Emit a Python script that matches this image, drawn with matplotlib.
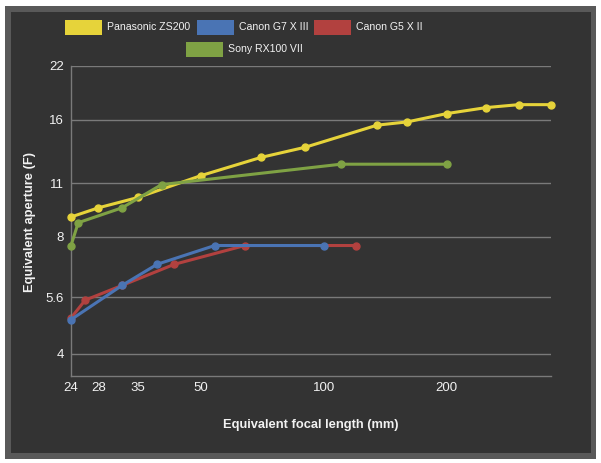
import matplotlib.pyplot as plt
from matplotlib.patches import Rectangle
from matplotlib.ticker import FixedLocator, NullLocator

plt.rcParams['font.family'] = ['Liberation Sans', 'DejaVu Sans']

# datos
zs200_f = [24, 28, 35, 50, 70, 90, 135, 160, 200, 250, 300, 360]
zs200_ap = [9.0, 9.5, 10.1, 11.5, 12.8, 13.6, 15.5, 15.8, 16.6, 17.2, 17.5, 17.5]

g7_f = [24, 32, 39, 54, 100]
g7_ap = [4.9, 6.0, 6.8, 7.6, 7.6]

g5_f = [24, 26, 32, 43, 64, 120]
g5_ap = [4.95, 5.5, 6.0, 6.8, 7.6, 7.6]

rx100_f = [24, 25, 32, 40, 110, 200]
rx100_ap = [7.6, 8.7, 9.5, 10.9, 12.3, 12.3]

series_names = ['Panasonic ZS200', 'Canon G7 X III', 'Canon G5 X II', 'Sony RX100 VII']
series_colors = ['#e6d33a', '#4a74b4', '#b2413f', '#7fa244']

x_ticks = [24, 28, 35, 50, 100, 200]
y_ticks = [4, 5.6, 8, 11, 16, 22]

W, H = 601, 463
fig = plt.figure(figsize=(W / 100, H / 100), dpi=100)
fig.patch.set_facecolor('white')

# marco exterior gris e interior oscuro (coordenadas en píxeles)
def px_rect(x0, y0, x1, y1, color):
    fig.patches.append(Rectangle((x0 / W, 1 - y1 / H), (x1 - x0) / W, (y1 - y0) / H,
                                 transform=fig.transFigure, facecolor=color,
                                 edgecolor='none', zorder=-10))

px_rect(5, 6, 596, 459, '#595959')
px_rect(11, 12, 591, 453, '#333333')

ax = fig.add_axes([71 / W, 1 - 376 / H, (551 - 71) / W, (376 - 66) / H])
ax.patch.set_alpha(0)

datos = [(zs200_f, zs200_ap), (g7_f, g7_ap), (g5_f, g5_ap), (rx100_f, rx100_ap)]
orden = [4, 3, 2, 5]
for (fx, ap), color, z in zip(datos, series_colors, orden):
    ax.plot(fx, ap, color=color, lw=2.2, marker='o', ms=5, zorder=z, clip_on=False)

ax.set_xscale('log')
ax.set_yscale('log')
ax.set_xlim(24, 360)
ax.set_ylim(3.51, 22)

ax.xaxis.set_major_locator(FixedLocator(x_ticks))
ax.xaxis.set_minor_locator(NullLocator())
ax.set_xticklabels([str(t) for t in x_ticks])
ax.yaxis.set_major_locator(FixedLocator(y_ticks))
ax.yaxis.set_minor_locator(NullLocator())
ax.set_yticklabels([('%g' % t) for t in y_ticks])

ax.tick_params(axis='both', length=0, colors='#f2f2f2', labelsize=9.5)
ax.tick_params(axis='x', pad=4)
ax.tick_params(axis='y', pad=5)
ax.grid(axis='y', color='#7a7a7a', lw=1)
ax.set_axisbelow(True)
for s in ['top', 'right']:
    ax.spines[s].set_visible(False)
for s in ['left', 'bottom']:
    ax.spines[s].set_color('#7a7a7a')
    ax.spines[s].set_linewidth(1)

fig.text(311 / W, 1 - 425 / H, 'Equivalent focal length (mm)', ha='center', va='center',
         color='#f2f2f2', fontsize=9.3, fontweight='bold')
fig.text(30 / W, 1 - 222 / H, 'Equivalent aperture (F)', ha='center', va='center',
         rotation=90, color='#f2f2f2', fontsize=9.3, fontweight='bold')

# leyenda manual en dos filas
leyenda_pos = [(65, 20), (197, 20), (314, 20), (186, 42)]
for (lx, ly), name, color in zip(leyenda_pos, series_names, series_colors):
    fig.patches.append(Rectangle((lx / W, 1 - (ly + 15) / H), 37 / W, 15 / H,
                                 transform=fig.transFigure, facecolor=color,
                                 edgecolor='none', zorder=5))
    fig.text((lx + 42) / W, 1 - (ly + 7.5) / H, name, ha='left', va='center',
             color='#f2f2f2', fontsize=7.6)

fig.savefig('out.png', dpi=100, facecolor=fig.get_facecolor())
